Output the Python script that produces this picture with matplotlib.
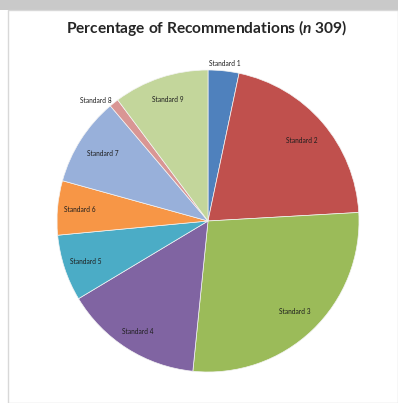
import numpy as np
import matplotlib.pyplot as plt
from matplotlib.patches import Rectangle

plt.rcParams['mathtext.fontset'] = 'custom'
plt.rcParams['mathtext.it'] = 'Lato:italic:bold'
plt.rcParams['mathtext.rm'] = 'Lato:bold'

labels = ['Standard 1', 'Standard 2', 'Standard 3', 'Standard 4', 'Standard 5',
          'Standard 6', 'Standard 7', 'Standard 8', 'Standard 9']
percent = [3.3, 20.8, 27.5, 14.8, 7.1, 5.8, 9.5, 1.0, 10.2]
colors = ['#4F81BD', '#C0504D', '#9BBB59', '#8064A2', '#4BACC6',
          '#F79646', '#98B0DA', '#D99694', '#C3D69B']
# radial position of each label (1 = pie edge)
label_r = [1.05, 0.82, 0.83, 0.87, 0.85, 0.85, 0.83, 1.02, 0.85]

W, H = 398, 403
fig = plt.figure(figsize=(W / 100, H / 100), dpi=100)
fig.patch.set_facecolor('white')

# photo background: grey strip at the top, chart frame
fig.add_artist(Rectangle((0, 1 - 10 / H), 1, 10 / H, transform=fig.transFigure,
                         facecolor='#c9c9c9', edgecolor='none', zorder=-2))
fig.add_artist(Rectangle((8 / W, 0), 1 - 8 / W, 1 - 10 / H, transform=fig.transFigure,
                         facecolor='white', edgecolor='#d8d8d8', linewidth=1.0,
                         zorder=-1))

cx, cy, R = 208, 221, 151
ax = fig.add_axes([(cx - R) / W, (H - cy - R) / H, 2 * R / W, 2 * R / H])
ax.set_zorder(1)
wedges, _ = ax.pie(percent, colors=colors, startangle=90, counterclock=False,
                   wedgeprops={'linewidth': 0.5, 'edgecolor': '#f4f4f4'})
ax.set_xlim(-1, 1)
ax.set_ylim(-1, 1)
ax.set_aspect('equal')
ax.axis('off')

for w, lab, r in zip(wedges, labels, label_r):
    mid = np.deg2rad((w.theta1 + w.theta2) / 2)
    x, y = r * np.cos(mid), r * np.sin(mid)
    ha = 'right' if lab == 'Standard 8' else 'center'
    ax.text(x, y, lab, fontsize=4.8, color='#1e1e1e', ha=ha, va='center',
            family='Lato', clip_on=False)

fig.text(207 / W, 1 - 28 / H, r'Percentage of Recommendations ($n$ 309)',
         fontsize=11.2, fontweight='bold', family='Lato', color='#262626',
         ha='center', va='center')

fig.savefig('out.png', dpi=100)
